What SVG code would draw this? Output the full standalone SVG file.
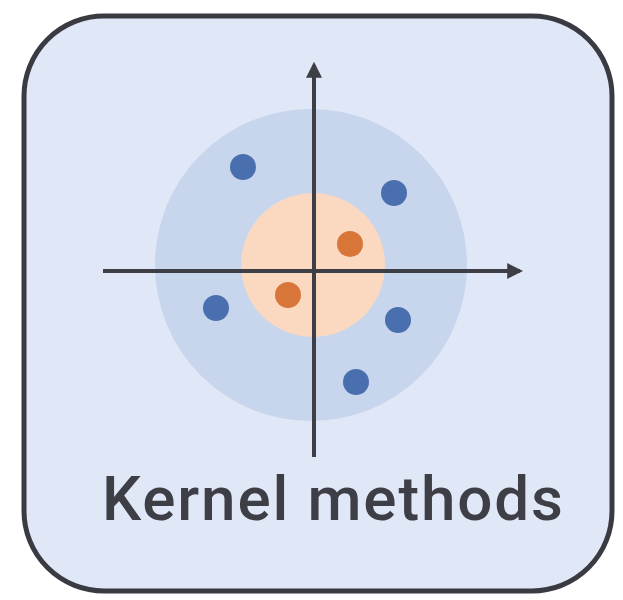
<svg xmlns="http://www.w3.org/2000/svg" width="623" height="600" viewBox="0 0 623 600">
<defs>
<style>
.axis{stroke:#3d3e46;stroke-width:4;fill:none}
.blue{fill:#4a6fae}
.orange{fill:#d8763a}
.label{font-family:Roboto,"Liberation Sans",Arial,sans-serif;font-size:62px;font-weight:500;fill:#3d3e46}
</style>
<marker id="ah" viewBox="0 0 10 10" refX="8" refY="5" markerWidth="4" markerHeight="4" orient="auto" markerUnits="strokeWidth">
<path d="M0,0 L10,5 L0,10 z" fill="#3d3e46"/>
</marker>
</defs>
<rect width="623" height="600" fill="#ffffff"/>
<g id="panel">
<rect x="24" y="16" width="588" height="575" rx="80" ry="80" fill="#e0e7f6" stroke="#3a3b42" stroke-width="5"/>
</g>
<g id="regions">
<circle cx="311" cy="265" r="156" fill="#c7d5ed"/>
<circle cx="313" cy="265" r="72" fill="#fbd9c1"/>
</g>
<g id="connectors">
<line class="axis" x1="103" y1="271" x2="520" y2="271" marker-end="url(#ah)"/>
<line class="axis" x1="314" y1="457" x2="314" y2="65" marker-end="url(#ah)"/>
</g>
<g id="points">
<circle class="blue" cx="243" cy="167" r="13"/>
<circle class="blue" cx="394" cy="193" r="13"/>
<circle class="blue" cx="216" cy="308" r="13"/>
<circle class="blue" cx="398" cy="320" r="13"/>
<circle class="blue" cx="356" cy="382" r="13"/>
<circle class="orange" cx="350" cy="244" r="13"/>
<circle class="orange" cx="288" cy="295" r="13"/>
</g>
<g id="title">
<text class="label" x="102" y="520" textLength="461" lengthAdjust="spacing">Kernel methods</text>
</g>
</svg>
